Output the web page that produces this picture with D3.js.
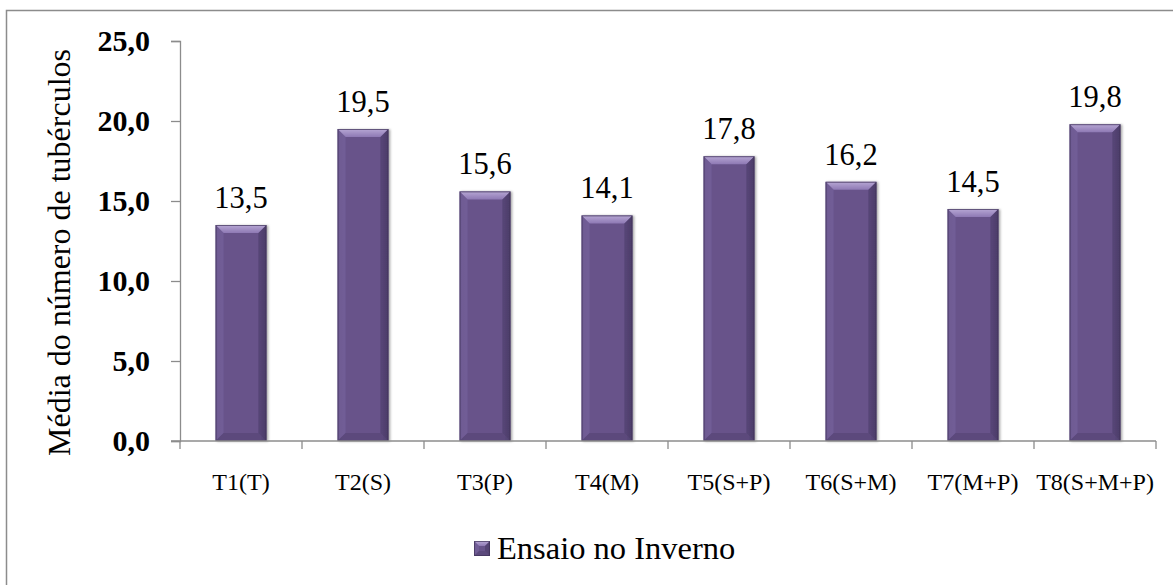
<!DOCTYPE html>
<html>
<head>
<meta charset="utf-8">
<script src="https://cdn.jsdelivr.net/npm/d3@7"></script>
<style>
  html, body { margin: 0; padding: 0; background: #fff; }
</style>
</head>
<body>
<svg id="chart" width="1173" height="585"></svg>
<script>
// Treatments and mean tuber counts (winter trial)
const categories = ["T1(T)", "T2(S)", "T3(P)", "T4(M)", "T5(S+P)", "T6(S+M)", "T7(M+P)", "T8(S+M+P)"];
const values = [13.5, 19.5, 15.6, 14.1, 17.8, 16.2, 14.5, 19.8];
const yTicks = [0, 5, 10, 15, 20, 25];
const seriesName = "Ensaio no Inverno";
const yTitle = "Média do número de tubérculos";

const FONT = "Liberation Serif";
const svg = d3.select("#chart");
const W = 1173, H = 585;
const margin = { left: 180, right: 17, top: 41, bottom: 144 };
const fmt = v => d3.format(".1f")(v).replace(".", ",");

// outer chart frame (only top and left edges fall inside the view)
svg.append("rect")
  .attr("x", 6.5).attr("y", 10.5)
  .attr("width", W + 10).attr("height", H + 10)
  .attr("fill", "none").attr("stroke", "#8c8c8c").attr("stroke-width", 1.5);

const x = d3.scaleBand()
  .domain(categories)
  .range([margin.left, W - margin.right])
  .paddingInner(1.4 / 2.4)
  .paddingOuter(0.7 / 2.4);

// band used for axis ticks (no padding)
const xAxisBand = d3.scaleBand().domain(categories).range([margin.left, W - margin.right]);

const y = d3.scaleLinear().domain([0, 25]).range([H - margin.bottom, margin.top]);

// gradients for the bevelled bars
const defs = svg.append("defs");
const topGrad = defs.append("linearGradient").attr("id", "bevelTop").attr("x1", 0).attr("y1", 0).attr("x2", 0).attr("y2", 1);
topGrad.append("stop").attr("offset", 0).attr("stop-color", "#b7a7d4");
topGrad.append("stop").attr("offset", 1).attr("stop-color", "#8e79b4");
const bodyGrad = defs.append("linearGradient").attr("id", "bevelBody").attr("x1", 0).attr("y1", 0).attr("x2", 1).attr("y2", 0);
bodyGrad.append("stop").attr("offset", 0).attr("stop-color", "#5e4b80");
bodyGrad.append("stop").attr("offset", 0.12).attr("stop-color", "#67538a");
bodyGrad.append("stop").attr("offset", 0.88).attr("stop-color", "#67538a");
bodyGrad.append("stop").attr("offset", 1).attr("stop-color", "#4f3f6d");
const shadow = defs.append("filter").attr("id", "barShadow").attr("x", "-20%").attr("y", "-10%").attr("width", "150%").attr("height", "130%");
shadow.append("feDropShadow").attr("dx", 1.5).attr("dy", 0.5).attr("stdDeviation", 1.2).attr("flood-color", "#000").attr("flood-opacity", 0.35);

function drawBevel(g, bx, by, bw, bh, bev) {
  g.append("rect").attr("x", bx).attr("y", by).attr("width", bw).attr("height", bh)
    .attr("fill", "url(#bevelBody)");
  // top facet
  g.append("path")
    .attr("d", `M${bx},${by} L${bx + bw},${by} L${bx + bw - bev},${by + bev} L${bx + bev},${by + bev} Z`)
    .attr("fill", "url(#bevelTop)");
  // left facet
  g.append("path")
    .attr("d", `M${bx},${by} L${bx + bev},${by + bev} L${bx + bev},${by + bh - bev} L${bx},${by + bh} Z`)
    .attr("fill", "#7a66a0").attr("opacity", 0.55);
  // right facet
  g.append("path")
    .attr("d", `M${bx + bw},${by} L${bx + bw - bev},${by + bev} L${bx + bw - bev},${by + bh - bev} L${bx + bw},${by + bh} Z`)
    .attr("fill", "#4a3b66").attr("opacity", 0.6);
  // bottom facet
  g.append("path")
    .attr("d", `M${bx},${by + bh} L${bx + bev},${by + bh - bev} L${bx + bw - bev},${by + bh - bev} L${bx + bw},${by + bh} Z`)
    .attr("fill", "#4f3f6d").attr("opacity", 0.5);
  g.append("rect").attr("x", bx + 0.5).attr("y", by + 0.5).attr("width", bw - 1).attr("height", bh - 1)
    .attr("fill", "none").attr("stroke", "#3f3258").attr("stroke-width", 1).attr("opacity", 0.7);
}

// bars
const bars = svg.append("g");
categories.forEach((c, i) => {
  const v = values[i];
  const g = bars.append("g").attr("filter", "url(#barShadow)");
  drawBevel(g, x(c), y(v), x.bandwidth(), y(0) - y(v), 8);
});

// y axis
const yAxis = svg.append("g").attr("transform", `translate(${margin.left},0)`)
  .call(d3.axisLeft(y).tickValues(yTicks).tickSize(9).tickPadding(21).tickFormat(fmt));
yAxis.select(".domain").attr("stroke", "#8c8c8c").attr("stroke-width", 1.3);
yAxis.selectAll(".tick line").attr("stroke", "#8c8c8c").attr("stroke-width", 1.3);
yAxis.selectAll(".tick text")
  .style("font-family", FONT)
  .style("font-size", "30px").style("font-weight", "bold").attr("fill", "#000")
  .attr("dy", "0.33em");

// x axis: ticks sit on category boundaries
const xAxisG = svg.append("g").attr("transform", `translate(0,${y(0)})`);
xAxisG.append("line")
  .attr("x1", margin.left - 9).attr("x2", W - margin.right)
  .attr("stroke", "#8c8c8c").attr("stroke-width", 1.3);
const boundaries = categories.map(c => xAxisBand(c)).concat([W - margin.right]);
xAxisG.selectAll("line.tk").data(boundaries).join("line").attr("class", "tk")
  .attr("x1", d => d).attr("x2", d => d).attr("y1", 0).attr("y2", 8)
  .attr("stroke", "#8c8c8c").attr("stroke-width", 1.3);
xAxisG.selectAll("text").data(categories).join("text")
  .attr("x", d => x(d) + x.bandwidth() / 2)
  .attr("y", 49)
  .attr("text-anchor", "middle")
  .style("font-family", FONT).style("font-size", "24px").attr("fill", "#000")
  .text(d => d);

// value labels
svg.append("g").selectAll("text").data(categories).join("text")
  .attr("x", d => x(d) + x.bandwidth() / 2)
  .attr("y", (d, i) => y(values[i]) - 17)
  .attr("text-anchor", "middle")
  .style("font-family", FONT).style("font-size", "30.5px").attr("fill", "#000")
  .text((d, i) => fmt(values[i]));

// y axis title
svg.append("text")
  .attr("transform", "translate(70,252.5) rotate(-90)")
  .attr("text-anchor", "middle")
  .style("font-family", FONT).style("font-size", "32px").attr("fill", "#000")
  .text(yTitle);

// legend
const lg = svg.append("g").attr("transform", "translate(474,541)");
drawBevel(lg.append("g"), 0, 0, 16, 15, 5);
lg.append("text").attr("x", 23).attr("y", 17.5)
  .style("font-family", FONT).style("font-size", "32.5px").attr("fill", "#000").text(seriesName);
</script>
</body>
</html>
